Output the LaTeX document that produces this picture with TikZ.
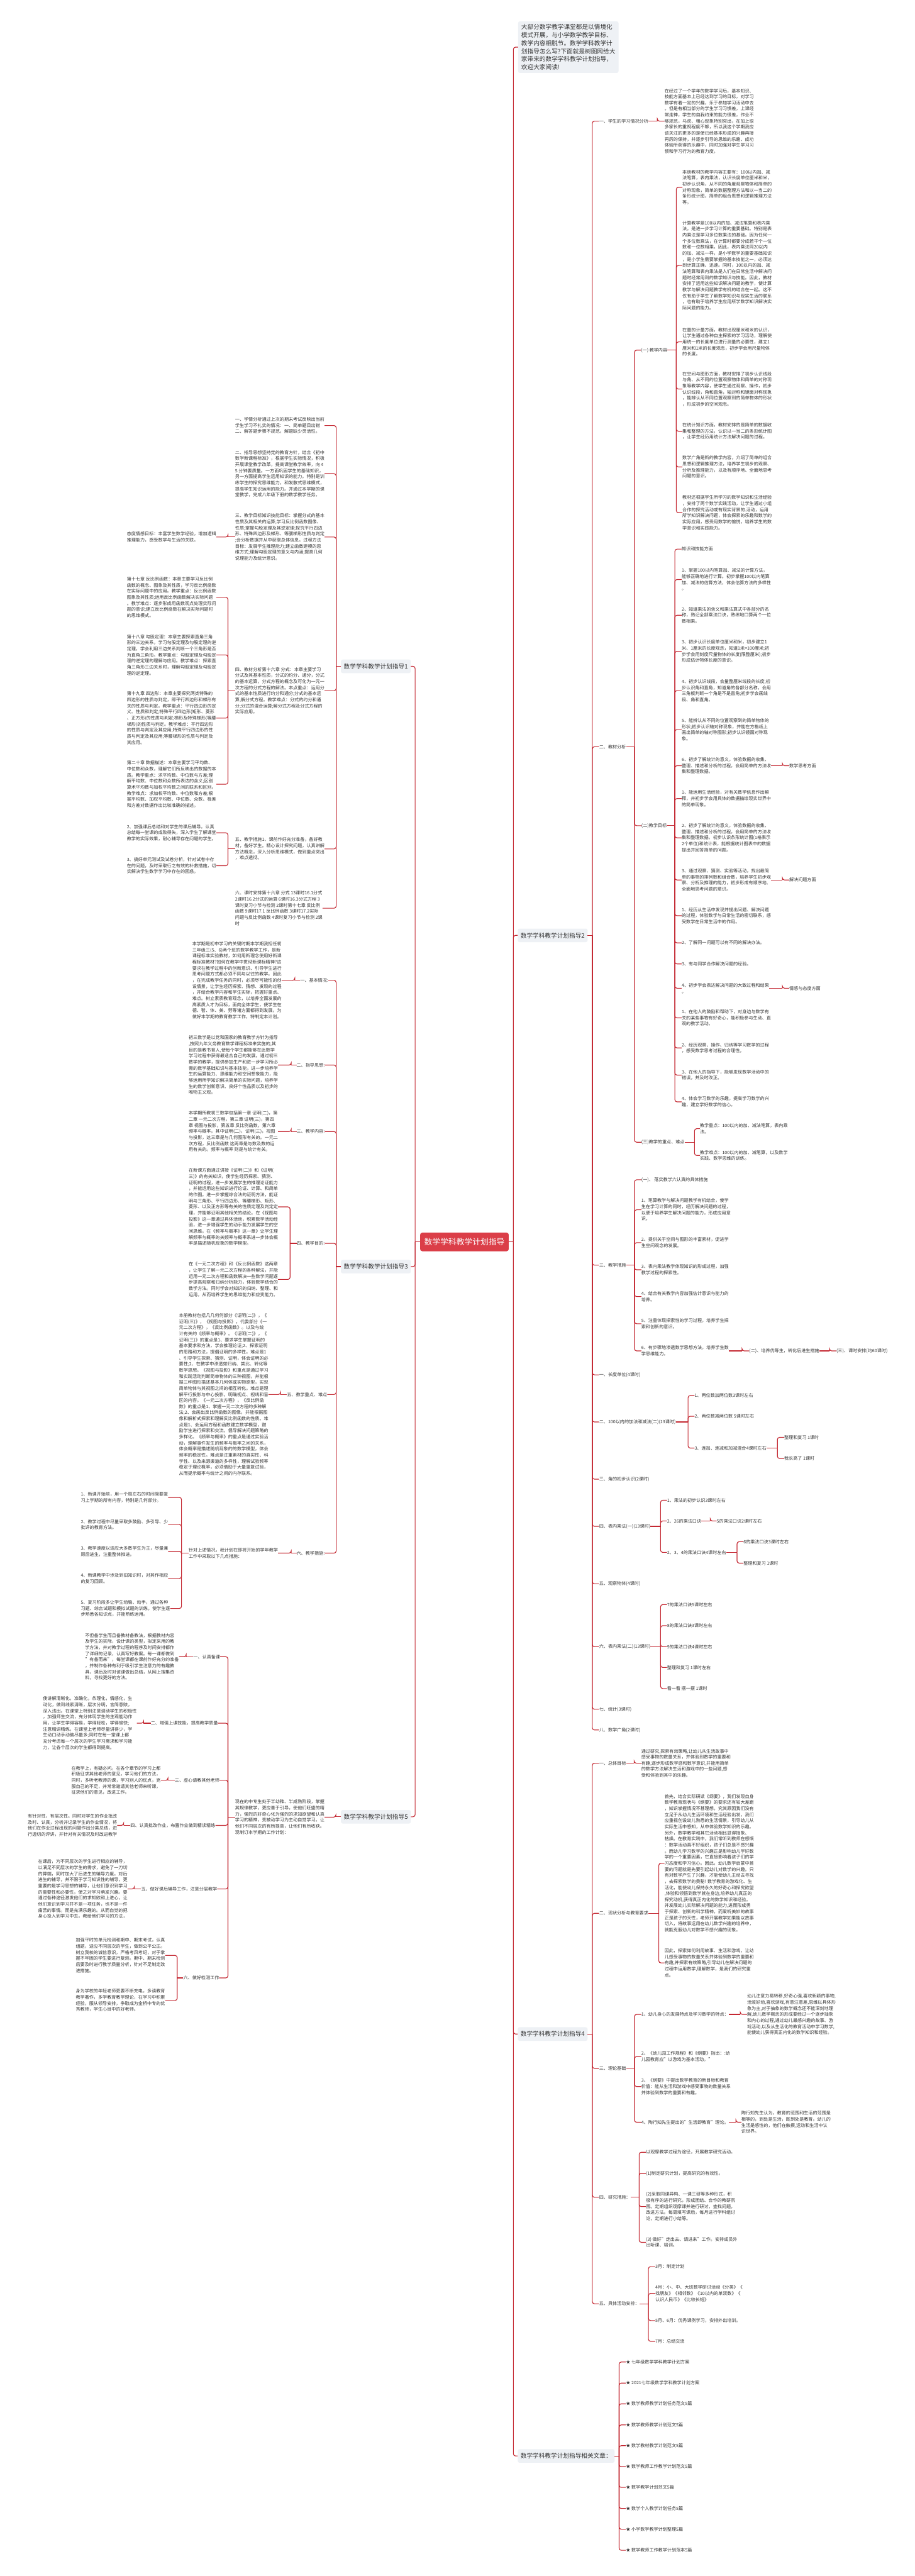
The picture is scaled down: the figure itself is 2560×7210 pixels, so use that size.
\documentclass[tikz,border=0pt]{standalone}
\usepackage{fontspec}
\setmainfont{Noto Sans CJK SC}

\definecolor{linkred}{RGB}{196,40,50}
\definecolor{rootred}{RGB}{219,62,72}
\definecolor{boxgray}{RGB}{238,241,245}
\definecolor{inkgray}{RGB}{51,51,51}

\tikzset{
  txt/.style={font=\fontsize{12.5}{17}\selectfont, text=inkgray, align=left, inner sep=0pt},
  rt/.style={txt, anchor=west},
  lt/.style={txt, anchor=east},
  topic/.style={font=\fontsize{17}{22}\selectfont, text=inkgray, fill=boxgray, rounded corners=5pt, inner xsep=8pt, minimum height=38pt},
  introbox/.style={font=\fontsize{17}{22.5}\selectfont, text=inkgray, fill=boxgray, rounded corners=5pt, inner xsep=9pt, inner ysep=8pt, align=left, anchor=west},
  rootbox/.style={font=\fontsize{22.5}{27}\selectfont, text=white, fill=rootred, rounded corners=6pt, minimum width=248pt, minimum height=52pt},
  link/.style={draw=linkred, line width=2pt},
}

% parent, bracket x, children (children to the right)
\newcommand\hookR[3]{\draw[link] (#1.east) -- (#2,0 |- #1.east);
  \foreach \kid in {#3}{\draw[link,rounded corners=6pt] (#2,0 |- #1.east) |- (\kid.west);}}
% parent, bracket x, children (children to the left)
\newcommand\hookL[3]{\draw[link] (#1.west) -- (#2,0 |- #1.west);
  \foreach \kid in {#3}{\draw[link,rounded corners=6pt] (#2,0 |- #1.west) |- (\kid.east);}}

\begin{document}
\begin{tikzpicture}[x=1pt,y=1pt,yscale=-1,xscale=1]
%set diagram left start at 0, and has height of 7210
\fill[white] (0,0) rectangle (2560,7210);
\useasboundingbox (0,0) rectangle (2560,7210);

%Root
\node[rootbox] (root) at (1300,3476) {数学学科教学计划指导};

%Right: intro and topics
\node[introbox] (intro) at (1450,132) {大部分数学教学课堂都是以情境化\\模式开展，与小学数学教学目标、\\教学内容相脱节。数学学科教学计\\划指导怎么写?下面就是树图网给大\\家带来的数学学科教学计划指导，\\欢迎大家阅读!};
\node[topic,anchor=west] (zd2) at (1449,2618) {数学学科教学计划指导2};
\node[topic,anchor=west] (zd4) at (1449,5693) {数学学科教学计划指导4};
\node[topic,anchor=west] (xg) at (1449,6874) {数学学科教学计划指导相关文章：};

%Topic 2
\node[rt] (a1) at (1677,339) {一、学生的学习情况分析};
\node[rt] (a1p) at (1860,339) {在经过了一个学年的数学学习后，基本知识、\\技能方面基本上已经达到学习的目标，对学习\\数学有着一定的兴趣，乐于参加学习活动中去\\。但是有相当部分的学生学习习惯差，上课经\\常走神，学生的自我约束的能力很差，作业不\\够规范，马虎、粗心现象特别突出，在加上很\\多家长的重视程度不够，所以我这个学期我应\\该关注的更多的是使已经基本形成的兴趣再接\\再厉的保持，并逐步引导的思维的乐趣、成功\\体验所获得的乐趣中，同时加强对学生学习习\\惯和学习行为的教育力度。};
\node[rt] (a2) at (1677,2090) {二、教材分析};
\node[rt] (b1) at (1794,980) {(一) 教学内容};
\node[rt] (c1) at (1910,524) {本册教材的教学内容主要有：100以内加、减\\法笔算，表内乘法，认识长度单位厘米和米，\\初步认识角，从不同的角度观察物体和简单的\\对称现象，简单的数据整理方法和以一当二的\\条形统计图，简单的组合思想和逻辑推理方法\\等。};
\node[rt] (c2) at (1910,743) {计算教学是100以内的加、减法笔算和表内乘\\法。是进一步学习计算的重要基础。特别是表\\内乘法是学习多位数乘法的基础。因为任何一\\个多位数乘法，在计算时都要分成若干个一位\\数和一位数相乘。因此，表内乘法同20以内\\的加、减法一样，是小学数学的重要基础知识\\，是小学生需要掌握的基本技能之一，必须达\\到计算正确、迅速。同时，100以内的加、减\\法笔算和表内乘法是人们在日常生活中解决问\\题时经常用到的数学知识与技能。因此，教材\\安排了运用这些知识解决问题的教学，使计算\\教学与解决问题教学有机的结合在一起。这不\\仅有助于学生了解数学知识与现实生活的联系\\，也有助于培养学生应用所学数学知识解决实\\际问题的能力。};
\node[rt] (c3) at (1910,957) {在量的计量方面，教材出现厘米和米的认识，\\让学生通过各种自主探索的学习活动，理解使\\用统一的长度单位进行测量的必要性，建立1\\厘米和1米的长度观念，初步学会用尺量物体\\的长度。};
\node[rt] (c4) at (1910,1089) {在空间与图形方面，教材安排了初步认识线段\\与角、从不同的位置观察物体和简单的对称现\\象等教学内容，使学生通过观察、操作，初步\\认识线段，角和直角，轴对称和镜面对称现象\\，能辨认从不同位置观察到的简单物体的形状\\，形成初步的空间观念。};
\node[rt] (c5) at (1910,1207) {在统计知识方面，教材安排的是简单的数据收\\集和整理的方法，认识以一当二的条形统计图\\，让学生经历用统计方法解决问题的过程。};
\node[rt] (c6) at (1910,1307) {数学广角是新的教学内容，介绍了简单的组合\\思想和逻辑推理方法，培养学生初步的观察、\\分析及推理能力，以及有顺序地、全面地思考\\问题的意识。};
\node[rt] (c7) at (1910,1435) {教材还根据学生所学习的数学知识和生活经验\\，安排了两个数学实践活动，让学生通过小组\\合作的探究活动或有现实背景的.活动，运用\\所学知识解决问题，体会探索的乐趣和数学的\\实际应用，感受用数学的愉悦，培养学生的数\\学意识和实践能力。};
\node[rt] (b2) at (1795,2311) {(二)教学目标};
\node[rt] (d0) at (1908,1537) {知识和技能方面};
\node[rt] (d1) at (1908,1622) {1、掌握100以内笔算加、减法的计算方法，\\能够正确地进行计算。初步掌握100以内笔算\\加、减法的估算方法，体会估算方法的多样性\\。};
\node[rt] (d2) at (1908,1722) {2、知道乘法的含义和乘法算式中各部分的名\\称，熟记全部乘法口诀，熟练地口算两个一位\\数相乘。};
\node[rt] (d3) at (1908,1823) {3、初步认识长度单位厘米和米，初步建立1\\米、1厘米的长度观念，知道1米=100厘米;初\\步学会用刻度尺量物体的长度(限整厘米);初步\\形成估计物体长度的意识。};
\node[rt] (d4) at (1908,1933) {4、初步认识线段，会量整厘米线段的长度;初\\步认识角和直角，知道角的各部分名称，会用\\三角板判断一个角是不是直角;初步学会画线\\段、角和直角。};
\node[rt] (d5) at (1908,2042) {5、能辨认从不同的位置观察到的简单物体的\\形状;初步认识轴对称现象，并能在方格纸上\\画出简单的轴对称图形;初步认识镜面对称现\\象。};
\node[rt] (d6) at (1908,2143) {6、初步了解统计的意义，体验数据的收集、\\整理、描述和分析的过程，会用简单的方法收\\集和整理数据。};
\node[rt] (e1) at (2209,2143) {数学思考方面};
\node[rt] (d7) at (1908,2235) {1、能运用生活经验，对有关数学信息作出解\\释，并初步学会用具体的数据描绘现实世界中\\的简单现象。};
\node[rt] (d8) at (1908,2345) {2、初步了解统计的意义，体验数据的收集、\\整理、描述和分析的过程，会用简单的方法收\\集和整理数据。初步认识条形统计图(1格表示\\2个单位)和统计表，能根据统计图表中的数据\\提出并回答简单的问题。};
\node[rt] (d9) at (1908,2463) {3、通过观察、猜测、实验等活动，找出最简\\单的事物的排列数和组合数，培养学生初步观\\察、分析及推理的能力，初步形成有顺序地、\\全面地思考问题的意识。};
\node[rt] (e2) at (2209,2463) {解决问题方面};
\node[rt] (d10) at (1908,2563) {1、经历从生活中发现并提出问题、解决问题\\的过程，体验数学与日常生活的密切联系，感\\受数学在日常生活中的作用。};
\node[rt] (d11) at (1908,2639) {2、了解同一问题可以有不同的解决办法。};
\node[rt] (d12) at (1908,2698) {3、有与同学合作解决问题的经验。};
\node[rt] (d13) at (1908,2766) {4、初步学会表达解决问题的大致过程和结果\\。};
\node[rt] (e3) at (2209,2766) {情感与态度方面};
\node[rt] (d14) at (1908,2849) {1、在他人的鼓励和帮助下，对身边与数学有\\关的某些事物有好奇心，能积极参与生动、直\\观的教学活动。};
\node[rt] (d15) at (1908,2933) {2、经历观察、操作、归纳等学习数学的过程\\，感受数学思考过程的合理性。};
\node[rt] (d16) at (1908,3009) {3、在他人的指导下，能够发现数学活动中的\\错误，并及时改正。};
\node[rt] (d17) at (1908,3084) {4、体会学习数学的乐趣，提高学习数学的兴\\趣，建立学好数学的信心。};
\node[rt] (b3) at (1795,3197) {(三)教学的重点、难点};
\node[rt] (f1) at (1959,3159) {教学重点：100以内的加、减法笔算，表内乘\\法。};
\node[rt] (f2) at (1959,3234) {教学难点：100以内的加、减笔算，以及数学\\实践、数学思维的训练。};
\node[rt] (a3) at (1677,3541) {三、教学措施};
\node[rt] (g0) at (1795,3302) {(一)、 落实教学六认真的具体措施};
\node[rt] (g1) at (1795,3386) {1、笔算教学与解决问题教学有机结合，使学\\生在学习计算的同时，经历解决问题的过程，\\以便于培养学生解决问题的能力，形成应用意\\识。};
\node[rt] (g2) at (1795,3478) {2、提供关于空间与图形的丰富素材，促进学\\生空间观念的发展。};
\node[rt] (g3) at (1795,3554) {3、表内乘法教学体现知识的形成过程，加强\\教学过程的探索性。};
\node[rt] (g4) at (1795,3629) {4、结合有关教学内容加强估计意识与能力的\\培养。};
\node[rt] (g5) at (1795,3705) {5、注重体现探索性的学习过程，培养学生探\\索和创新的意识。};
\node[rt] (g6) at (1795,3781) {6、有步骤地渗透数学思想方法，培养学生数\\学思维能力。};
\node[rt] (h1) at (2097,3781) {(二)、培养优等生，转化后进生措施};
\node[rt] (h2) at (2341,3781) {(三)、课时安排(约60课时)};
\node[rt] (a4) at (1677,3848) {一、长度单位(4课时)};
\node[rt] (a5) at (1677,3980) {二、100以内的加法和减法(二)(13课时)};
\node[rt] (i1) at (1944,3906) {1、两位数加两位数3课时左右};
\node[rt] (i2) at (1944,3964) {2、两位数减两位数 5课时左右};
\node[rt] (i3) at (1944,4053) {3、连加、连减和加减混合4课时左右};
\node[rt] (j1) at (2195,4023) {整理和复习 1课时};
\node[rt] (j2) at (2195,4082) {我长高了 1课时};
\node[rt] (a6) at (1677,4140) {三、角的初步认识(2课时)};
\node[rt] (a7) at (1677,4272) {四、表内乘法(一)(13课时)};
\node[rt] (k1) at (1867,4199) {1、乘法的初步认识3课时左右};
\node[rt] (k2) at (1867,4257) {2、26的乘法口诀};
\node[rt] (k2a) at (2006,4257) {5的乘法口诀2课时左右};
\node[rt] (k3) at (1867,4345) {2、3、4的乘法口诀4课时左右};
\node[rt] (l1) at (2081,4315) {6的乘法口诀3课时左右};
\node[rt] (l2) at (2081,4375) {整理和复习 1课时};
\node[rt] (a8) at (1677,4433) {五、观察物体(4课时)};
\node[rt] (a9) at (1677,4609) {六、表内乘法(二)(13课时)};
\node[rt] (m1) at (1867,4491) {7的乘法口诀5课时左右};
\node[rt] (m2) at (1867,4550) {8的乘法口诀3课时左右};
\node[rt] (m3) at (1867,4609) {9的乘法口诀4课时左右};
\node[rt] (m4) at (1867,4667) {整理和复习 1课时左右};
\node[rt] (m5) at (1867,4726) {看一看 摆一摆 1课时};
\node[rt] (a10) at (1677,4784) {七、统计(3课时)};
\node[rt] (a11) at (1677,4842) {八、数学广角(2课时)};

%Topic 4
\node[rt] (n1) at (1677,4935) {一、总体目标};
\node[rt] (n1p) at (1795,4935) {通过研究,探索有效策略,让幼儿从生活故事中\\感受事物的数量关系，并体验到数学的重要和\\有趣,逐步形成数学感和数学意识,并能用简单\\的数学方法解决生活和游戏中的一些问题,感\\受和体验到其中的乐趣。};
\node[rt] (n2) at (1677,5355) {二、现状分析与教育要求};
\node[rt] (o1) at (1860,5215) {首先，结合实际研读《纲要》，我们发现自身\\数学教育现状与《纲要》的要求还有较大差距\\，知识掌握情况不甚理想。究其原因我们没有\\立足于从幼儿生活环境和生活经验出发，我们\\应重视创设幼儿熟悉的生活情景，引导幼儿从\\实际生活中感知，从中体验数学知识的乐趣。\\ 另外，数学教学和其它活动相比显得抽象、\\枯燥。在教育实践中，我们常听到教师在感慨\\：数学活动真不好组织，孩子们总是不感兴趣\\。而幼儿学习数学的兴趣正是影响幼儿学好数\\学的一个重要因素，它直接影响着孩子们的学\\习态度和学习信心。因此，幼儿数学启蒙中首\\要的问题就是先要引起幼儿对数学的兴趣。只\\有对数学产生了兴趣，才能使幼儿主动去寻找\\，去探索数学的奥秘! 数学教育的游戏化、生\\活化，能使幼儿保持永久的好奇心和探究欲望\\,体验和领悟到数学就在身边,培养幼儿真正的\\探究动机,获得真正内化的数学知识和经验。\\并发展幼儿实际解决问题的能力,进而形成勇\\于探索、创新的科学精神。而爱听美妙的故事\\正是孩子的天性，老师开展教学如果能以故事\\切入，将故事运用在幼儿数学兴趣的培养中，\\就能克服幼儿对数学不感兴趣的现象。};
\node[rt] (o2) at (1860,5494) {因此，探索如何利用故事、生活和游戏，让幼\\儿感受事物的数量关系并体验到数学的重要和\\有趣,并探索有效策略,引导幼儿在解决问题的\\过程中运用数学,理解数学，是我们的研究重\\点。};
\node[rt] (n3) at (1677,5789) {三、理论基础};
\node[rt] (p1) at (1795,5638) {1、幼儿身心的发展特点及学习数学的特点：};
\node[rt] (p1p) at (2091,5638) {幼儿注意力易转移,好奇心强,喜欢新颖的事物,\\活泼好动,喜欢游戏,有意注意差,思维以具体形\\象为主,对于抽象的数学概念还不能深刻地理\\解,幼儿数学概念的形成要经过一个逐步抽象\\和内心的过程,通过幼儿最感兴趣的故事、游\\戏活动,以及从生活化的教育活动中学习数学,\\能使幼儿获得真正内化的数学知识和经验。};
\node[rt] (p2) at (1795,5756) {2、《幼儿园工作规程》和《纲要》指出：:幼\\儿园教育应"以游戏为基本活动。"};
\node[rt] (p3) at (1795,5840) {3、《纲要》中提出数学教育的新目标和教育\\价值：能从生活和游戏中感受事物的数量关系\\并体验到数学的重要和有趣。};
\node[rt] (p4) at (1795,5940) {4、陶行知先生提出的"生活即教育"理论。};
\node[rt] (p4p) at (2075,5940) {陶行知先生认为，教育的范围和生活的范围是\\相等的，到处是生活，既到处是教育。幼儿的\\生活是感性的，他们在触摸,运动和生活中认\\识世界。};
\node[rt] (n4) at (1677,6150) {四、研究措施：};
\node[rt] (q1) at (1808,6024) {以观摩教学过程为途径，开展教学研究活动。};
\node[rt] (q2) at (1808,6083) {(1)制定研究计划，提高研究的有效性。};
\node[rt] (q3) at (1808,6176) {(2)采取同课异构、一课三研等多种形式，积\\极有序的进行研究，形成团结、合作的教研氛\\围。定期组织观摩课并进行研讨，查找问题，\\改进方法。每周填写课后，每月进行学科组讨\\论，定期进行小结等。};
\node[rt] (q4) at (1808,6276) {(3) 做好"走出去、请进来"工作。安排成员外\\出听课、培训。};
\node[rt] (n5) at (1677,6448) {五、具体活动安排：};
\node[rt] (r1) at (1834,6344) {3月：制定计划};
\node[rt] (r2) at (1834,6419) {4月：小、中、大班数学研讨活动《分类》《\\找朋友》《相邻数》《10以内的单双数》《\\认识人民币》《比较长短》};
\node[rt] (r3) at (1834,6495) {5月、6月：优秀课例学习，安排外出培训。};
\node[rt] (r4) at (1834,6553) {7月：总结交流};

%Related articles
\foreach \k/\yy/\tt in {1/6611/七年级数学学科教学计划方案, 2/6670/2021七年级数学学科教学计划方案, 3/6728/数学教师教学计划任务范文5篇, 4/6787/数学教师教学计划范文5篇, 5/6845/数学教材教学计划范文5篇, 6/6904/数学教师工作教学计划范文5篇, 7/6962/数学教学计划范文5篇, 8/7021/数学个人教学计划任务5篇, 9/7079/小学数学教学计划整理5篇, 10/7138/数学教师工作教学计划范本5篇}
  \node[rt] (s\k) at (1752,\yy) {★ \tt};

%Left: topics
\node[topic,anchor=east] (zd1) at (1150,1865) {数学学科教学计划指导1};
\node[topic,anchor=east] (zd3) at (1150,3545) {数学学科教学计划指导3};
\node[topic,anchor=east] (zd5) at (1150,5085) {数学学科教学计划指导5};

%Topic 1
\node[rt] (t1) at (658,1191) {一、学情分析通过上次的期末考试反映出当前\\学生学习不扎实的情况：一、简单题目出错\\二、解答题步骤不规范，解题缺少灵活性。};
\node[rt] (t2) at (658,1326) {二、指导思想坚持党的教育方针，结合《初中\\数学新课程标准》，根据学生实际情况，积极\\开展课堂教学改革，提高课堂教学效率，向 4\\5 分钟要质量。一方面巩固学生的基础知识，\\另一方面提高学生运用知识的能力。特别是训\\练学生的探究思维能力，和发散式思维模式，\\提高学生知识运用的能力。并通过本学期的课\\堂教学，完成八年级下册的数学教学任务。};
\node[rt] (t3) at (658,1503) {三、教学目标知识技能目标：掌握分式的基本\\性质及其相关的运算;学习反比例函数图像、\\性质;掌握勾股定理及其逆定理;探究平行四边\\形、特殊四边形及梯形、等腰梯形性质与判定\\;会分析数据并从中获取总体信息。过程方法\\目标：发展学生推理能力;建立函数建模的思\\维方式;理解勾股定理的意义与内涵;提高几何\\说理能力及统计意识。};
\node[rt] (t3a) at (355,1503) {态度情感目标：丰富学生数学经验，增加逻辑\\推理能力，感受数学与生活的关联。};
\node[rt] (t4) at (658,1933) {四、教材分析第十六章 分式：本章主要学习\\分式及其基本性质，分式的约分、通分，分式\\的基本运算，分式方程的概念及可化为一元一\\次方程的分式方程的解法。本点重点：运用分\\式的基本性质进行约分和通分;分式的基本运\\算;解分式方程。教学难点：分式的约分和通\\分;分式的混合运算;解分式方程及分式方程的\\实际应用。};
\node[rt] (u1) at (355,1672) {第十七章 反比例函数：本章主要学习反比例\\函数的概念、图象及其性质，学习反比例函数\\在实际问题中的应用。教学重点：反比例函数\\图象及其性质;运用反比例函数解决实际问题\\。教学难点：逐步形成用函数观点处理实际问\\题的意识;建立反比例函数在解决实际问题时\\的思维模式。};
\node[rt] (u2) at (355,1833) {第十八章 勾股定理：本章主要探索直角三角\\形的三边关系，学习勾股定理及勾股定理的逆\\定理，学会利用三边关系判断一个三角形是否\\为直角三角形。教学重点：勾股定理及勾股定\\理的逆定理的理解与应用。教学难点：探索直\\角三角形三边关系时，理解勾股定理及勾股定\\理的逆定理。};
\node[rt] (u3) at (355,2010) {第十九章 四边形：本章主要探究两类特殊的\\四边形的性质与判定，即平行四边形和梯形有\\关的性质与判定。教学重点：平行四边形的定\\义、性质和判定;特殊平行四边形(矩形、菱形\\、正方形)的性质与判定;梯形及特殊梯形(等腰\\梯形)的性质与判定。教学难点：平行四边形\\的性质与判定及其应用;特殊平行四边形的性\\质与判定及其应用;等腰梯形的性质与判定及\\其应用。};
\node[rt] (u4) at (355,2195) {第二十章 数据描述：本章主要学习平均数、\\中位数和众数，理解它们所反映出的数据的本\\质。教学重点：求平均数、中位数与方差;理\\解平均数、中位数和众数所表达的含义;区别\\算术平均数与加权平均数之间的联系和区别。\\教学难点：求加权平均数、中位数和方差;根\\据平均数、加权平均数、中位数、众数、极差\\和方差对数据作出比较准确的描述。};
\node[rt] (t5) at (658,2376) {五、教学措施1、课前作好充分准备，备好教\\材，备好学生。精心设计探究问题，认真讲解\\方法概念，深入分析思维模式，做到重点突出\\，难点透彻。};
\node[rt] (v1) at (355,2331) {2、加强课后总结和对学生的课后辅导。认真\\总结每一堂课的成败得失，深入学生了解课堂\\教学的实际效果，耐心辅导存在问题的学生。};
\node[rt] (v2) at (355,2423) {3、搞好单元测试及试卷分析，针对试卷中存\\在的问题，及时采取行之有效的补救措施，切\\实解决学生数学学习中存在的困惑。};
\node[rt] (t6) at (658,2542) {六、课时安排第十六章 分式 13课时16.1分式\\ 2课时16.2分式的运算 6课时16.3分式方程 3\\课时复习小节与检测 2课时第十七章 反比例\\函数 9课时17.1 反比例函数 3课时17.2实际\\问题与反比例函数 4课时复习小节与检测 2课\\时};

%Topic 3
\node[rt] (w1) at (840,2744) {一、基本情况:};
\node[rt] (w1p) at (538,2744) {本学期是初中学习的关键时期本学期我担任初\\三年级三(5、6)两个班的数学教学工作，是新\\课程标准实验教材，如何用新理念使用好新课\\程标准教材?如何在教学中贯彻新课标精神?这\\要求在教学过程中的创新意识、引导学生进行\\思考问题方式都必须不同与以往的教学。因此\\，在完成教学任务的同时，必须尽可能性的创\\设情景，让学生经历探索、猜想、发现的过程\\，并结合教学内容和学生实际，把握好重点、\\难点。树立素质教育观念，以培养全面发展的\\高素质人才为目标，面向全体学生，使学生在\\德、智、体、美、劳等诸方面都得到发展。为\\做好本学期的教育教学工作，特制定本计划。};
\node[rt] (w2) at (830,2981) {二、指导思想:};
\node[rt] (w2p) at (528,2981) {初三数学是以党和国家的教育教学方针为指导\\,按照九年义务教育数学课程标准来实施的,其\\目的是教书育人,使每个学生都能够在此数学\\学习过程中获得最适合自己的发展。通过初三\\数学的教学，提供参加生产和进一步学习所必\\需的数学基础知识与基本技能，进一步培养学\\生的运算能力、思维能力和空间想象能力，能\\够运用所学知识解决简单的实际问题，培养学\\生的数学创新意识、良好个性品质以及初步的\\唯物主义观。};
\node[rt] (w3) at (830,3167) {三、教学内容:};
\node[rt] (w3p) at (528,3167) {本学期所教初三数学包括第一章 证明(二)，第\\二章 一元二次方程，第三章 证明(三)，第四\\章 视图与投影，第五章 反比例函数，第六章\\频率与概率。其中证明(二)，证明(三)，视图\\与投影，这三章是与几何图形有关的。一元二\\次方程，反比例函数 这两章是与数及数的运\\用有关的。频率与概率 则是与统计有关。};
\node[rt] (w4) at (830,3480) {四、教学目的:};
\node[rt] (w4a) at (528,3378) {在新课方面通过讲授《证明(二)》和《证明(\\三)》的有关知识，使学生经历探索、猜测、\\证明的过程，进一步发展学生的推理论证能力\\，并能运用这些知识进行论证、计算、和简单\\的作图。进一步掌握综合法的证明方法，能证\\明与三角形、平行四边形、等腰梯形、矩形、\\菱形、以及正方形等有关的性质定理及判定定\\理，并能够证明其他相关的结论。在《视图与\\投影》这一章通过具体活动，积累数学活动经\\验，进一步增强学生的动手能力发展学生的空\\间思维。在《频率与概率》这一章》让学生理\\解频率与概率的关频率与概率系进一步体会概\\率是描述随机现象的数学模型。};
\node[rt] (w4b) at (528,3581) {在《一元二次方程》和《反比例函数》这两章\\，让学生了解一元二次方程的各种解法，并能\\运用一元二次方程和函数解决一些数学问题逐\\步提高观察和归纳分析能力，体验数学结合的\\数学方法。同时学会对知识的归纳、整理、和\\运用。从而培养学生的思维能力和应变能力。};
\node[rt] (w5) at (803,3903) {五、教学重点、难点};
\node[rt] (w5p) at (501,3903) {本册教材包括几几何何部分《证明(二)》，《\\证明(三)》，《视图与投影》。代委部分《一\\元二次方程》，《反比例函数》。以及与统\\计有关的《频率与概率》。《证明(二)》，《\\证明(三)》的重点是1、要求学生掌握证明的\\基本要求和方法，学会推理论证;2、探索证明\\的思路和方法，提倡证明的多样性。难点是1\\、引导学生探索、猜测、证明，体会证明的必\\要性;2、在教学中渗透如归纳、类比、转化等\\数学思想。《视图与投影》和重点是通过学习\\和实践活动判断简单物体的三种视图，并能根\\据三种图形描述基本几何体或实物原型，实现\\简单物体与其视图之间的相互转化。难点是理\\解平行投影与中心投影，明确视点、视线和盲\\区的内容。《一元二次方程》，《反比例函\\数》的重点是1、掌握一元二次方程的多种解\\法;2、会画出反比例函数的图像，并能根据图\\像和解析式探索和理解反比例函数的性质。难\\点是1、会运用方程和函数建立数学模型，鼓\\励学生进行探索和交流，倡导解决问题策略的\\多样化。《频率与概率》的重点是通过实验活\\动，理解事件发生的频率与概率之间的关系，\\体会概率是描述随机现象的的数学模型，体会\\频率的稳定性。难点是注重素材的真实性、科\\学性、以及来源渠道的多样性，理解试验频率\\稳定于理论概率，必须借助于大量重复试验，\\从而提示概率与统计之间的内存联系。};
\node[rt] (w6) at (830,4347) {六、教学措施:};
\node[rt] (w6p) at (528,4347) {针对上述情况，我计划在即将开始的学年教学\\工作中采取以下几点措施：};
\node[rt] (x1) at (226,4191) {1、新课开始前，用一个周左右的时间简要复\\习上学期的所有内容，特别是几何部分。};
\node[rt] (x2) at (226,4267) {2、教学过程中尽量采取多鼓励、多引导、少\\批评的教育方法。};
\node[rt] (x3) at (226,4342) {3、教学速度以适应大多数学生为主，尽量兼\\顾后进生，注重整体推进。};
\node[rt] (x4) at (226,4418) {4、新课教学中涉及到旧知识时，对其作相应\\的复习回顾。};
\node[rt] (x5) at (226,4502) {5、复习阶段多让学生动脑、动手，通过各种\\习题、综合试题和模拟试题的训练，使学生逐\\步熟悉各知识点，并能熟练运用。};

%Topic 5
\node[rt] (y5p) at (658,5086) {现在的中专生处于半幼稚、半成熟阶段，掌握\\其规律教学，更应善于引导，使他们旺盛的精\\力，强烈的好奇心化为强烈的求知欲望和认真\\学习的精神，变被动学习为主动自觉学习。让\\他们不同层次的有所提高，让他们有所收获。\\现制订本学期的工作计划：};
\node[rt] (z1) at (541,4637) {一、认真备课};
\node[rt] (z1p) at (238,4637) {不但备学生而且备教材备教法，根据教材内容\\及学生的实际，设计课的类型，拟定采用的教\\学方法，并对教学过程的程序及时间安排都作\\了详细的记录，认真写好教案。每一课都做到\\"有备而来"，每堂课都在课前作好充分的准备\\，并制作各种有利于吸引学生注意力的有趣教\\具，课后及时对该课做出总结，从网上搜集资\\料，寻找更好的方法。};
\node[rt] (z2) at (422,4823) {二、增强上课技能，提高教学质量};
\node[lt] (z2p) at (383,4823) {使讲解清晰化，准确化，条理化，情感化，生\\动化，做到线索清晰，层次分明，言简意赅，\\深入浅出。在课堂上特别注意调动学生的积极性\\，加强师生交流，充分体现学生的主观能动作\\用，让学生学得容易，学得轻松，学得愉快;\\注意精讲精练，在课堂上老师尽量讲得少，学\\生动口动手动脑尽量多;同时在每一堂课上都\\充分考虑每一个层次的学生学习需求和学习能\\力，让各个层次的学生都得到提高。};
\node[rt] (z3) at (489,4983) {三、虚心请教其他老师};
\node[lt] (z3p) at (450,4983) {在教学上，有疑必问。在各个章节的学习上都\\积极征求其他老师的意见，学习他们的方法，\\同时，多听老教师的课，学习别人的优点，克\\服自己的不足，并常常邀请其他老师来听课，\\征求他们的意见，改进工作。};
\node[rt] (z4) at (365,5109) {四、认真批改作业，布置作业做到精读精练};
\node[lt] (z4p) at (328,5109) {有针对性，有层次性。同时对学生的作业批改\\及时、认真，分析并记录学生的作业情况，将\\他们在作业过程出现的问题作出分类总结，进\\行透切的评讲，并针对有关情况及时改进教学};
\node[rt] (z5) at (395,5287) {五、做好课后辅导工作，注意分层教学};
\node[lt] (z5p) at (357,5287) {在课后，为不同层次的学生进行相应的辅导，\\以满足不同层次的学生的需求，避免了一刀切\\的弊端，同时加大了后进生的辅导力度。对后\\进生的辅导，并不限于学习知识性的辅导，更\\重要的是学习思想的辅导，让他们意识到学习\\的重要性和必要性，使之对学习萌发兴趣。要\\通过各种途径激发他们的求知欲和上进心，让\\他们意识到学习并不是一项任务，也不是一件\\痛苦的事情。而是充满乐趣的。从而自觉的把\\身心投入到学习中去。教给他们学习的方法，};
\node[rt] (z6) at (513,5536) {六、做好检测工作};
\node[rt] (z6a) at (212,5473) {加强平时的单元检测和期中、期末考试，认真\\组题，适应不同层次的学生，做到公平公正。\\树立我校的诚信意识，严格考风考纪，对于掌\\握不牢固的学生要进行复测。期中、期末检测\\后要及时进行教学质量分析，针对不足制定改\\进措施。};
\node[rt] (z6b) at (212,5599) {身为学校的年轻老师更要不断充电，多读教育\\教学著作，多学教育教学理论，在学习中积累\\经验，服从领导安排，争取成为金桥中专的优\\秀教师，学生心目中的好老师。};

%Connectors: root
\hookR{root}{1437}{intro,zd2,zd4,xg}
\hookL{root}{1162}{zd1,zd3,zd5}
%Connectors: topic 2
\hookR{zd2}{1658}{a1,a2,a3,a4,a5,a6,a7,a8,a9,a10,a11}
\hookR{a1}{1840}{a1p}
\hookR{a2}{1776}{b1,b2,b3}
\hookR{b1}{1893}{c1,c2,c3,c4,c5,c6,c7}
\hookR{b2}{1889}{d0,d1,d2,d3,d4,d5,d6,d7,d8,d9,d10,d11,d12,d13,d14,d15,d16,d17}
\hookR{d6}{2190}{e1}
\hookR{d9}{2190}{e2}
\hookR{d13}{2190}{e3}
\hookR{b3}{1944}{f1,f2}
\hookR{a3}{1776}{g0,g1,g2,g3,g4,g5,g6}
\hookR{g6}{2077}{h1}
\hookR{h1}{2322}{h2}
\hookR{a5}{1926}{i1,i2,i3}
\hookR{i3}{2176}{j1,j2}
\hookR{a7}{1849}{k1,k2,k3}
\hookR{k2}{1988}{k2a}
\hookR{k3}{2063}{l1,l2}
\hookR{a9}{1849}{m1,m2,m3,m4,m5}
%Connectors: topic 4
\hookR{zd4}{1658}{n1,n2,n3,n4,n5}
\hookR{n1}{1775}{n1p}
\hookR{n2}{1844}{o1,o2}
\hookR{n3}{1776}{p1,p2,p3,p4}
\hookR{p1}{2072}{p1p}
\hookR{p4}{2060}{p4p}
\hookR{n4}{1789}{q1,q2,q3,q4}
\hookR{n5}{1815}{r1,r2,r3,r4}
\hookR{xg}{1733}{s1,s2,s3,s4,s5,s6,s7,s8,s9,s10}
%Connectors: topic 1
\hookL{zd1}{941}{t1,t2,t3,t4,t5,t6}
\hookL{t3}{638}{t3a}
\hookL{t4}{638}{u1,u2,u3,u4}
\hookL{t5}{638}{v1,v2}
%Connectors: topic 3
\hookL{zd3}{941}{w1,w2,w3,w4,w5,w6}
\hookL{w1}{825}{w1p}
\hookL{w2}{815}{w2p}
\hookL{w3}{815}{w3p}
\hookL{w4}{812}{w4a,w4b}
\hookL{w5}{785}{w5p}
\hookL{w6}{815}{w6p}
\hookL{w6p}{508}{x1,x2,x3,x4,x5}
%Connectors: topic 5
\hookL{zd5}{940}{y5p}
\hookL{y5p}{638}{z1,z2,z3,z4,z5,z6}
\hookL{z1}{521}{z1p}
\hookL{z2}{402}{z2p}
\hookL{z3}{470}{z3p}
\hookL{z4}{346}{z4p}
\hookL{z5}{376}{z5p}
\hookL{z6}{496}{z6a,z6b}

\end{tikzpicture}
\end{document}
